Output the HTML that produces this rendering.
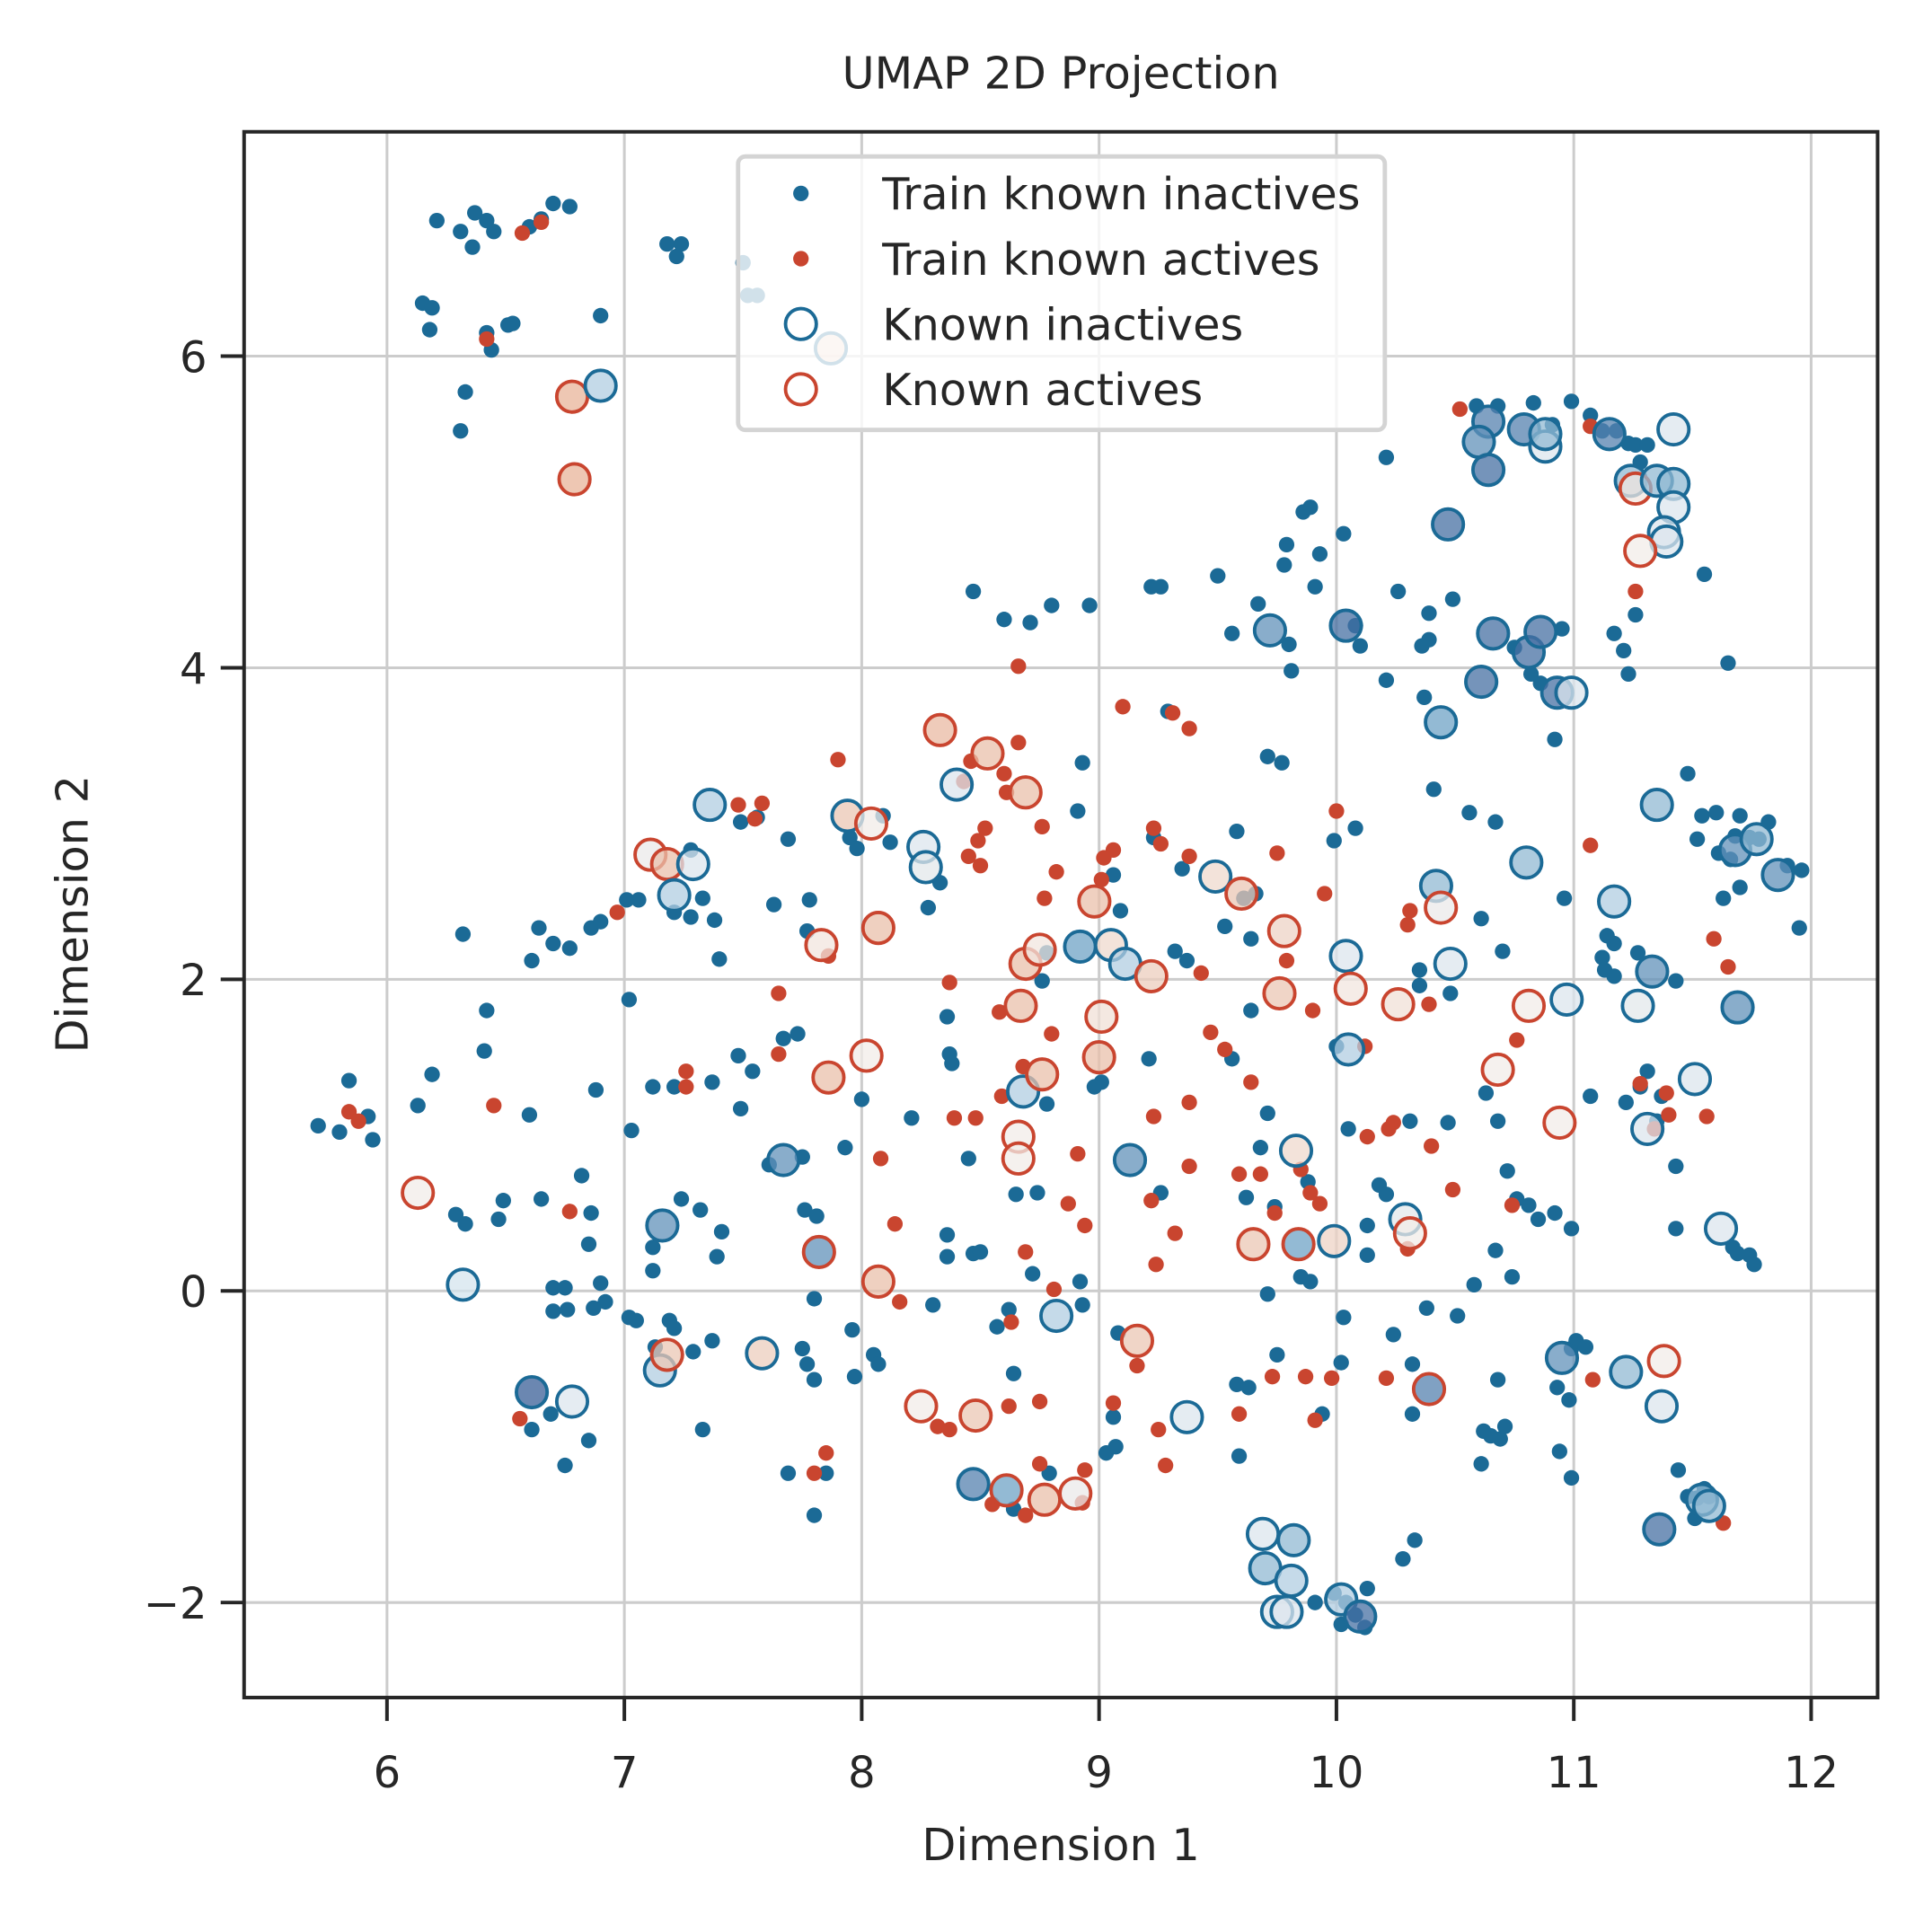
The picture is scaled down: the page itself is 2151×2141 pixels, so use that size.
<!DOCTYPE html>
<html><head><meta charset="utf-8"><title>UMAP 2D Projection</title>
<style>html,body{margin:0;padding:0;background:#fff}svg{display:block}text{font-family:"DejaVu Sans","Liberation Sans",sans-serif;fill:#262626}</style>
</head><body>
<svg id="chart" width="2151" height="2141" viewBox="0 0 1568 1561" xmlns="http://www.w3.org/2000/svg">
<rect x="0" y="0" width="1568" height="1561" fill="#fff"/>
<g id="grid"></g><g id="pts"></g><g id="axes"></g><g id="legend"></g>
</svg>
<script>
const xTicks=[6,7,8,9,10,11,12];
const yTicks=[-2,0,2,4,6];
const trainInX=[6.21,6.31,6.37,6.42,6.36,6.45,6.60,6.65,6.70,6.77,6.15,6.19,6.18,6.42,6.44,6.51,6.53,6.33,6.31,6.90,7.18,7.24,7.22,7.50,7.52,7.56,
5.71,5.80,5.84,5.92,5.94,6.13,6.19,6.32,6.41,6.42,6.61,6.64,6.77,6.70,6.86,6.90,6.88,7.01,7.06,7.02,7.03,7.12,7.21,7.21,7.28,7.28,7.38,7.40,7.33,7.37,7.48,7.49,7.54,7.49,7.56,7.69,7.63,7.78,7.77,7.67,7.73,7.61,7.75,7.76,7.81,7.80,7.75,7.77,7.80,7.80,7.69,7.85,7.96,7.97,8.05,8.07,7.93,8.00,7.95,7.98,8.09,8.12,8.21,8.33,8.28,8.36,8.37,8.38,8.30,8.36,8.36,8.47,8.50,8.57,8.62,8.64,8.64,8.74,8.65,8.45,8.47,8.60,8.71,8.80,8.96,8.76,8.78,8.78,8.72,8.91,8.93,8.92,8.93,8.79,9.03,9.07,9.08,9.06,9.06,9.09,9.01,8.98,9.21,9.26,9.29,9.22,9.26,9.23,9.32,9.35,9.37,9.50,9.53,9.56,9.58,9.61,9.56,9.64,9.64,9.66,9.58,9.63,9.59,9.71,9.75,9.62,9.67,9.71,9.68,9.74,9.71,9.77,9.79,9.78,9.80,9.81,9.86,9.89,9.91,9.93,9.85,9.89,9.88,9.94,9.91,9.99,10.04,10.02,10.08,10.13,10.12,10.03,10.08,10.10,9.99,10.08,10.03,10.02,10.05,10.00,10.13,10.13,10.18,10.21,10.21,10.21,10.26,10.36,10.39,10.37,10.39,10.32,10.32,10.28,10.33,10.24,10.31,10.38,10.51,10.41,10.35,10.35,10.48,10.49,10.56,10.58,10.47,10.61,10.61,10.62,10.63,10.65,10.67,10.67,10.68,10.68,10.69,10.71,10.72,10.70,10.74,10.76,10.81,10.85,10.92,10.93,10.94,10.96,10.98,10.99,10.99,10.92,10.99,11.01,11.05,10.75,10.59,10.68,10.83,10.91,10.99,11.07,11.12,11.18,11.23,11.26,11.31,11.28,10.95,10.82,10.86,11.17,11.21,11.26,11.23,11.12,11.17,11.13,11.17,11.14,11.07,11.22,11.27,11.28,11.31,11.37,11.35,11.44,11.48,11.52,11.55,11.57,11.51,11.43,11.43,11.43,11.48,11.52,11.54,11.55,11.61,11.60,11.66,11.68,11.70,11.74,11.78,11.82,11.90,11.96,11.95,11.67,11.69,11.74,11.76,11.65,11.63,11.70,
6.29,6.33,6.49,6.47,6.65,6.60,6.70,6.75,6.70,6.76,6.82,6.85,6.86,6.90,6.87,6.92,6.85,6.75,6.61,6.69,7.02,7.05,7.12,7.12,7.24,7.32,7.39,7.41,7.37,7.33,7.19,7.21,7.29,7.13];
const trainInY=[6.87,6.80,6.92,6.87,6.70,6.80,6.83,6.88,6.98,6.96,6.34,6.31,6.17,6.15,6.04,6.20,6.21,5.77,5.52,6.26,6.72,6.72,6.64,6.60,6.39,6.39,
1.06,1.02,1.35,1.12,0.97,1.19,1.39,2.29,1.54,1.80,2.12,2.33,2.20,2.23,2.33,2.37,1.29,2.51,2.51,1.87,1.03,1.31,1.31,2.43,2.83,2.40,2.38,2.13,2.52,1.34,1.51,1.17,1.41,3.01,3.04,2.90,2.48,2.51,2.31,1.62,1.65,0.81,0.86,0.52,0.48,-0.05,-0.37,-0.47,-0.57,-1.44,-1.17,-1.17,-0.25,-0.55,-0.41,-0.47,0.92,1.23,2.91,2.84,3.05,2.88,1.11,2.62,2.46,1.76,1.52,1.46,-0.09,0.36,0.22,0.24,0.25,-0.23,-0.12,-0.53,-1.40,0.63,0.62,0.85,4.49,4.31,4.29,4.40,4.40,1.99,2.17,1.20,0.11,3.08,3.39,0.06,-0.09,-1.17,-1.04,-1.00,-0.27,-0.81,2.67,2.44,1.34,1.31,1.49,0.63,3.72,4.52,4.52,2.91,2.18,2.71,2.12,4.59,2.34,4.22,2.95,2.52,1.49,2.26,1.80,2.55,-0.60,-0.62,-1.06,-0.02,-0.41,0.60,4.41,1.14,0.92,0.54,3.43,3.39,4.79,4.66,4.15,3.98,5.00,5.03,4.52,4.73,0.09,0.06,0.70,-0.79,-2.00,-1.94,-2.00,-2.14,-2.08,-1.91,-2.16,4.86,4.27,4.14,2.89,2.97,-0.17,-0.46,1.04,1.57,0.42,0.23,0.68,0.62,3.92,5.35,4.49,4.14,4.18,3.81,4.35,-0.79,-0.47,-1.72,-1.60,-0.28,1.09,-0.11,-0.16,3.22,2.06,1.96,1.91,4.44,3.07,0.04,1.08,2.39,-1.11,-0.90,1.27,-0.93,0.26,3.01,1.09,-0.57,-0.95,-0.87,0.77,2.18,0.09,0.59,0.55,0.46,3.54,-0.62,-1.03,2.52,-0.70,-1.20,-0.37,0.50,0.40,-0.32,-0.36,4.13,5.68,5.68,5.70,5.56,5.71,5.62,5.52,5.52,5.44,5.43,5.43,5.32,4.25,3.96,3.90,4.22,4.11,4.34,3.96,2.14,2.23,2.06,2.02,2.28,1.25,1.21,2.17,1.31,1.41,1.25,1.09,-1.15,-1.32,-1.33,-1.27,-1.32,-1.46,1.99,0.80,0.40,3.32,2.90,3.05,4.60,2.81,3.07,2.77,2.92,3.05,2.91,2.90,3.01,2.73,2.70,2.33,0.28,0.24,0.23,0.17,4.03,2.52,2.59,
0.49,0.43,0.58,0.46,0.59,1.13,0.02,0.02,-0.13,-0.12,0.74,0.30,0.50,0.05,-0.11,-0.07,-0.96,-1.12,-0.89,-0.79,-0.17,-0.19,0.13,0.28,0.59,0.52,0.22,0.38,-0.32,-0.89,-0.19,-0.24,-0.39,-0.36];
const trainActX=[6.42,6.57,6.65,5.84,5.88,6.45,6.56,6.77,6.97,7.26,7.26,7.48,7.58,7.55,7.65,7.65,7.90,7.86,8.08,8.14,8.16,7.85,7.80,8.32,8.37,8.37,8.39,8.48,8.43,8.46,8.45,8.49,8.50,8.52,8.58,8.59,8.66,8.66,8.60,8.61,8.68,8.69,8.62,8.75,8.77,8.76,8.80,8.81,8.63,8.82,8.87,8.91,8.94,8.94,8.93,8.75,8.69,8.55,9.01,9.02,9.06,9.06,9.10,9.16,9.22,9.23,9.23,9.25,9.26,9.24,9.28,9.31,9.32,9.38,9.38,9.38,9.38,9.43,9.47,9.53,9.59,9.59,9.64,9.68,9.73,9.75,9.74,9.79,9.85,9.87,9.91,9.89,9.93,9.95,9.90,9.98,10.00,10.12,10.13,10.21,10.22,10.24,10.30,10.30,10.31,10.39,10.40,10.49,10.52,10.74,10.76,11.07,11.08,11.07,11.26,11.28,11.34,11.39,11.40,11.56,11.59,11.65,11.63];
const trainActY=[6.11,6.79,6.86,1.15,1.09,1.19,-0.82,0.51,2.43,1.41,1.31,3.12,3.13,3.03,1.91,1.52,3.41,2.15,0.85,0.43,-0.07,-1.04,-1.17,-0.87,-0.89,1.98,1.11,1.11,3.27,3.40,2.79,2.89,2.73,2.97,1.79,1.25,4.01,3.52,3.32,3.20,1.44,0.25,-0.74,-0.71,2.52,2.98,1.65,0.01,-0.20,2.69,0.56,0.88,0.42,-1.15,-1.36,-1.11,-1.44,-1.37,2.64,2.78,2.83,-0.72,3.75,-0.48,0.58,1.12,2.97,-0.89,2.87,0.17,-1.12,3.71,0.37,3.61,1.21,2.79,0.80,2.04,1.66,1.55,0.75,-0.79,1.34,0.75,-0.55,2.81,0.50,2.12,0.78,-0.55,-0.83,0.63,0.56,2.55,1.80,-0.56,3.08,1.57,0.99,-0.56,1.04,1.08,0.27,2.35,2.44,1.84,0.93,0.65,5.66,0.55,1.61,2.86,-0.57,5.55,4.49,1.33,1.04,1.27,1.13,1.12,2.26,2.08,-1.49];
const knownX=[6.78,6.90,6.79,7.87,6.13,6.32,6.61,6.78,7.11,7.18,7.29,7.21,7.36,7.16,7.15,7.18,7.58,7.67,7.82,7.83,7.94,8.04,7.86,8.02,8.07,8.07,8.26,8.27,8.40,8.33,8.53,8.69,8.25,8.48,8.47,8.61,8.77,8.90,8.67,8.69,8.68,8.76,8.66,8.66,8.75,8.92,8.82,8.98,9.01,9.00,9.05,9.11,9.22,9.13,9.16,9.49,9.60,9.37,9.72,9.78,9.76,9.65,9.84,9.83,9.99,10.04,10.04,10.06,10.05,9.69,9.82,9.70,9.81,9.75,9.79,10.02,10.10,10.26,10.29,10.31,10.39,10.44,10.47,10.42,10.44,10.48,10.61,10.66,10.68,10.81,10.80,10.64,10.60,10.64,10.79,10.88,10.88,10.81,10.86,10.93,10.99,10.94,10.97,10.95,11.15,11.17,11.22,11.24,11.26,11.35,11.42,11.42,11.42,11.38,11.39,11.28,11.27,11.33,11.35,11.31,11.51,11.38,11.37,11.36,11.54,11.57,11.62,11.69,11.68,11.77,11.86];
const knownY=[5.74,5.81,5.21,6.05,0.63,0.04,-0.65,-0.71,2.80,2.74,2.74,2.54,3.12,0.42,-0.51,-0.41,-0.40,0.84,0.25,2.22,3.05,3.00,1.37,1.51,0.06,2.33,2.85,2.72,3.25,3.60,3.45,3.20,-0.74,-0.80,-1.24,-1.28,-1.34,-1.30,1.83,2.10,1.28,1.39,0.99,0.85,2.19,2.21,-0.16,2.50,1.76,1.50,2.22,2.10,2.02,0.84,-0.32,2.66,2.55,-0.81,4.24,2.31,1.91,0.30,0.30,0.90,0.32,4.27,2.15,1.94,1.55,-1.56,-1.60,-1.78,-1.86,-2.06,-2.06,-1.98,-2.09,1.84,0.46,0.37,-0.63,3.65,4.92,2.60,2.46,2.10,3.91,4.22,1.42,1.83,2.75,5.58,5.45,5.27,5.53,5.42,5.50,4.10,4.23,3.84,3.84,1.08,1.87,-0.43,5.50,2.50,-0.52,5.20,5.15,5.20,5.18,5.53,5.03,4.87,4.81,4.75,1.83,2.05,3.12,1.04,1.36,-0.45,-0.74,-1.53,-1.34,-1.38,0.40,1.82,2.83,2.90,2.67];
const knownActive=[1,0,1,0,1,0,0,0,1,1,0,0,0,0,0,1,0,0,1,1,0,1,1,1,1,1,0,0,0,1,1,1,1,1,0,1,1,1,1,1,0,1,1,1,1,0,0,1,1,1,0,0,1,0,1,0,1,0,0,1,1,1,1,0,0,0,0,1,0,0,0,0,0,0,0,0,0,1,0,1,1,0,0,0,1,0,0,0,1,1,0,0,0,0,0,0,0,0,0,0,0,1,0,0,0,0,0,0,1,0,0,0,0,0,0,1,0,0,0,0,0,1,0,0,0,0,0,0,0,0,0];
const knownScore=[0,0.7,0,0.15,0.45,0.65,1,0.6,0.5,0.1,0.6,0.7,0.7,0.85,0.7,0.15,0.2,0.85,0.85,0.4,0.15,0.45,0.1,0.45,0.1,0.1,0.6,0.55,0.6,0.05,0.1,0.1,0.45,0.15,0.9,0.8,0.1,0.5,0.1,0.1,0.7,0.1,0.45,0.45,0.4,0.8,0.7,0.1,0.35,0.1,0.3,0.7,0.2,0.85,0.15,0.3,0.15,0.6,0.85,0.25,0.15,0.15,0.8,0.3,0.25,0.95,0.6,0.4,0.7,0.6,0.75,0.75,0.7,0.6,0.6,0.7,0.95,0.35,0.55,0.45,0.9,0.8,0.95,0.75,0.5,0.6,0.95,0.95,0.45,0.45,0.75,0.9,0.85,0.95,0.9,0.6,0.75,0.95,0.95,0.95,0.6,0.45,0.6,0.85,0.9,0.7,0.75,0.75,0.4,0.75,0.75,0.6,0.6,0.6,0.6,0.45,0.55,0.85,0.75,0.6,0.6,0.45,0.6,0.95,0.75,0.75,0.6,0.85,0.85,0.75,0.85];

const NS="http://www.w3.org/2000/svg";
const L=198,R=1524,T=107,B=1378;
const XMIN=5.398,XMAX=12.28,YMIN=-2.61,YMAX=7.44;
function sx(v){return L+(v-XMIN)/(XMAX-XMIN)*(R-L);}
function sy(v){return B-(v-YMIN)/(YMAX-YMIN)*(B-T);}
function mk(tag,attrs,parent){const e=document.createElementNS(NS,tag);for(const k in attrs)e.setAttribute(k,attrs[k]);parent.appendChild(e);return e;}
const stops=[[0,[232,180,154]],[0.45,[242,236,232]],[0.65,[212,228,238]],[0.8,[111,163,198]],[1,[58,95,151]]];
function cmap(v){for(let i=1;i<stops.length;i++){if(v<=stops[i][0]){const a=stops[i-1],b=stops[i],t=(v-a[0])/(b[0]-a[0]);const c=a[1].map((q,j)=>Math.round(q+(b[1][j]-q)*t));return`rgb(${c.join(',')})`;}}return'rgb(58,95,151)';}
const grid=document.getElementById('grid'),pts=document.getElementById('pts'),axes=document.getElementById('axes'),leg=document.getElementById('legend');
xTicks.forEach(t=>{const g=mk('line',{x1:sx(t),x2:sx(t),y1:T,y2:B,stroke:'#cccccc','stroke-width':2.2},grid);


const tk=mk('line',{x1:sx(t),x2:sx(t),y1:B,y2:B+19,stroke:'#262626','stroke-width':2.9},axes);


const tx=mk('text',{x:sx(t),y:1451,'text-anchor':'middle','font-size':35},axes);tx.textContent=String(t);

});
yTicks.forEach(t=>{const g=mk('line',{x1:L,x2:R,y1:sy(t),y2:sy(t),stroke:'#cccccc','stroke-width':2.2},grid);


const tk=mk('line',{x1:L-19,x2:L,y1:sy(t),y2:sy(t),stroke:'#262626','stroke-width':2.9},axes);


const tx=mk('text',{x:L-30,y:sy(t)+13,'text-anchor':'end','font-size':35},axes);tx.textContent=(t<0?'\u2212'+(-t):String(t));

});
trainInX.forEach((x,i)=>{const c=mk('circle',{cx:sx(x),cy:sy(trainInY[i]),r:6.3,fill:'#1b6a96'},pts);

});
trainActX.forEach((x,i)=>{const c=mk('circle',{cx:sx(x),cy:sy(trainActY[i]),r:6.3,fill:'#c9452f'},pts);

});
knownX.forEach((x,i)=>{const c=mk('circle',{cx:sx(x),cy:sy(knownY[i]),r:12.5,fill:cmap(knownScore[i]),'fill-opacity':0.75,stroke:knownActive[i]?'#c9452f':'#1b6a96','stroke-width':2.8},pts);

});
const fr=mk('rect',{x:L,y:T,width:R-L,height:B-T,fill:'none',stroke:'#262626','stroke-width':2.9},axes);


const tt=mk('text',{x:861,y:72,'text-anchor':'middle','font-size':36},axes);tt.textContent='UMAP 2D Projection';


const xl=mk('text',{x:861,y:1510,'text-anchor':'middle','font-size':36},axes);xl.textContent='Dimension 1';


const yl=mk('text',{x:71,y:742,'text-anchor':'middle','font-size':36,transform:'rotate(-90 71 742)'},axes);yl.textContent='Dimension 2';


const lb=mk('rect',{x:599,y:127,width:525,height:222,rx:6,fill:'#fff','fill-opacity':0.8,stroke:'#d4d4d4','stroke-width':3.5},leg);


const legLabels=['Train known inactives','Train known actives','Known inactives','Known actives'];
legLabels.forEach((s,i)=>{const y=157+i*53;let m;
if(i<2){m=mk('circle',{cx:650,cy:y,r:6.3,fill:i===0?'#1b6a96':'#c9452f'},leg);}
else{m=mk('circle',{cx:650,cy:y,r:12.5,fill:'none',stroke:i===2?'#1b6a96':'#c9452f','stroke-width':2.8},leg);}


const t=mk('text',{x:716,y:y+13,'font-size':36},leg);t.textContent=s;

});
</script>
</body></html>
